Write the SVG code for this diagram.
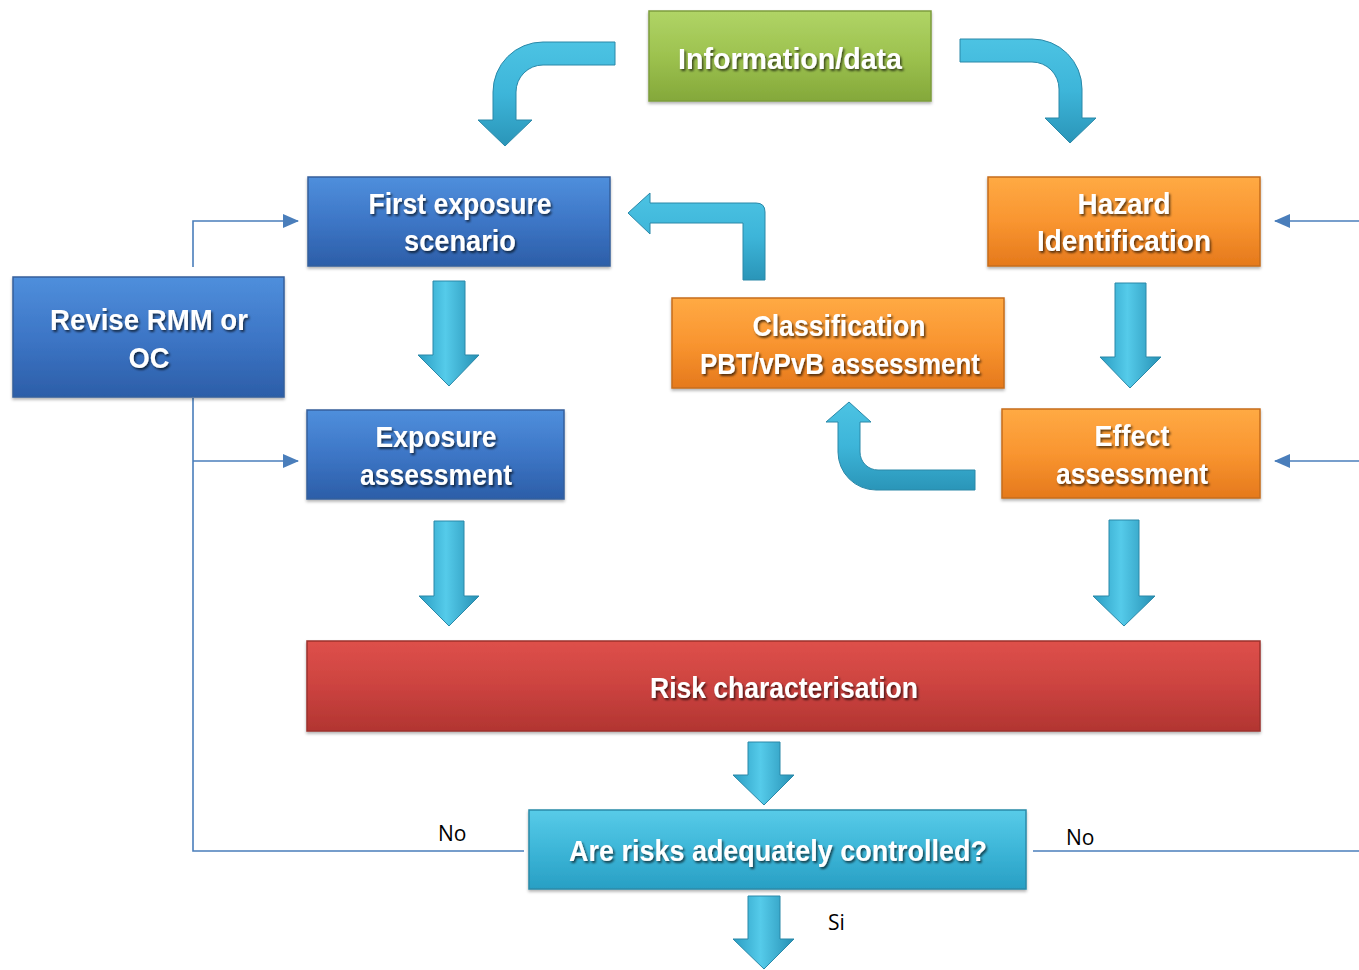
<svg xmlns="http://www.w3.org/2000/svg" width="1359" height="970" viewBox="0 0 1359 970">
<defs>
<linearGradient id="gGreen" x1="0" y1="0" x2="0" y2="1"><stop offset="0" stop-color="#b0d466"/><stop offset="0.5" stop-color="#9dc24f"/><stop offset="1" stop-color="#84a83a"/></linearGradient>
<linearGradient id="gBlue" x1="0" y1="0" x2="0" y2="1"><stop offset="0" stop-color="#4f8fdc"/><stop offset="0.5" stop-color="#3d76c6"/><stop offset="1" stop-color="#2c5ea8"/></linearGradient>
<linearGradient id="gOrange" x1="0" y1="0" x2="0" y2="1"><stop offset="0" stop-color="#ffaa44"/><stop offset="0.5" stop-color="#f99530"/><stop offset="1" stop-color="#e5791c"/></linearGradient>
<linearGradient id="gRed" x1="0" y1="0" x2="0" y2="1"><stop offset="0" stop-color="#de504a"/><stop offset="0.5" stop-color="#cc4340"/><stop offset="1" stop-color="#b23531"/></linearGradient>
<linearGradient id="gCyan" x1="0" y1="0" x2="0" y2="1"><stop offset="0" stop-color="#58cbe8"/><stop offset="0.5" stop-color="#3db6d8"/><stop offset="1" stop-color="#289fc4"/></linearGradient>
<linearGradient id="gArrV" x1="0" y1="0" x2="1" y2="0"><stop offset="0" stop-color="#2a9dc2"/><stop offset="0.45" stop-color="#55cbea"/><stop offset="1" stop-color="#2690b4"/></linearGradient>
<linearGradient id="gArrH" x1="0" y1="0" x2="0" y2="1"><stop offset="0" stop-color="#4cc3e3"/><stop offset="0.5" stop-color="#3db5d9"/><stop offset="1" stop-color="#2a95b8"/></linearGradient>
<filter id="tsh" x="-10%" y="-30%" width="120%" height="160%"><feDropShadow dx="1.5" dy="2" stdDeviation="1" flood-color="#000" flood-opacity="0.65"/></filter>
<filter id="bsh" x="-5%" y="-10%" width="110%" height="125%"><feDropShadow dx="0" dy="2" stdDeviation="1.5" flood-color="#000" flood-opacity="0.3"/></filter>
<marker id="ah" markerWidth="16" markerHeight="14" refX="15" refY="7" orient="auto" markerUnits="userSpaceOnUse"><path d="M0,0 L16,7 L0,14 Z" fill="#4a7ebb"/></marker>
<style>
.bt{font-family:"Liberation Sans",Arial,sans-serif;font-weight:bold;font-size:30px;fill:#fff;text-anchor:middle;filter:url(#tsh)}
.lbl{font-family:"Open Sans","Liberation Sans",sans-serif;font-size:21px;fill:#000}
.ln{fill:none;stroke:#4a7ebb;stroke-width:1.6}
.arr{stroke:#2a88a8;stroke-width:1}
.box{filter:url(#bsh)}
</style>
</defs>

<g id="connectors">
<path class="ln" d="M193,267 L193,221 L298,221" marker-end="url(#ah)"/>
<path class="ln" d="M193,398 L193,851 L524,851"/>
<path class="ln" d="M193,461 L298,461" marker-end="url(#ah)"/>
<path class="ln" d="M1359,221 L1275,221" marker-end="url(#ah)"/>
<path class="ln" d="M1359,461 L1275,461" marker-end="url(#ah)"/>
<path class="ln" d="M1033,851 L1359,851"/>
<text class="lbl" x="438" y="841">No</text>
<text class="lbl" x="1066" y="845">No</text>
<text class="lbl" x="828" y="930">Si</text>

<path class="arr" fill="url(#gArrH)" d="M615,42 L543,42 A50,50 0 0 0 493,92 L493,120 L478,120 L505,146 L532,120 L516,120 L516,92 A27,27 0 0 1 543,65 L615,65 Z"/>
<path class="arr" fill="url(#gArrH)" d="M960,39 L1032,39 A50,50 0 0 1 1082,89 L1082,118 L1096,118 L1070,143 L1045,118 L1059,118 L1059,89 A27,27 0 0 0 1032,62 L960,62 Z"/>
<path class="arr" fill="url(#gArrH)" d="M765,280 L765,212 Q765,203 756,203 L650,203 L650,193 L628,213 L650,234 L650,223 L743,223 L743,280 Z"/>
<path class="arr" fill="url(#gArrH)" d="M975,470 L878,470 A18,18 0 0 1 860,452 L860,422 L871,422 L849,402 L826,422 L838,422 L838,452 A38,38 0 0 0 876,490 L975,490 Z"/>

<path class="arr" fill="url(#gArrV)" d="M433,281 L465,281 L465,355 L479,355 L449,386 L418,355 L433,355 Z"/>
<path class="arr" fill="url(#gArrV)" d="M1115,283 L1146,283 L1146,357 L1161,357 L1130,388 L1100,357 L1115,357 Z"/>
<path class="arr" fill="url(#gArrV)" d="M434,521 L464,521 L464,596 L479,596 L449,626 L419,596 L434,596 Z"/>
<path class="arr" fill="url(#gArrV)" d="M1109,520 L1139,520 L1139,596 L1155,596 L1124,626 L1093,596 L1109,596 Z"/>
<path class="arr" fill="url(#gArrV)" d="M748,742 L780,742 L780,775 L794,775 L764,805 L733,775 L748,775 Z"/>
<path class="arr" fill="url(#gArrV)" d="M748,896 L780,896 L780,939 L794,939 L764,969 L733,939 L748,939 Z"/>
</g>

<g id="info" class="box">
<rect x="649" y="11" width="282" height="90" fill="url(#gGreen)" stroke="#7d9d3c" stroke-width="1.5"/>
<text class="bt" x="790" y="69" textLength="224" lengthAdjust="spacingAndGlyphs">Information/data</text>
</g>

<g id="first-exposure" class="box">
<rect x="308" y="177" width="302" height="89" fill="url(#gBlue)" stroke="#345f9c" stroke-width="1.5"/>
<text class="bt" x="460" y="214" textLength="183" lengthAdjust="spacingAndGlyphs">First exposure</text>
<text class="bt" x="460" y="251" textLength="112" lengthAdjust="spacingAndGlyphs">scenario</text>
</g>

<g id="hazard" class="box">
<rect x="988" y="177" width="272" height="89" fill="url(#gOrange)" stroke="#c66c1c" stroke-width="1.5"/>
<text class="bt" x="1124" y="214" textLength="93" lengthAdjust="spacingAndGlyphs">Hazard</text>
<text class="bt" x="1124" y="251" textLength="174" lengthAdjust="spacingAndGlyphs">Identification</text>
</g>

<g id="revise" class="box">
<rect x="13" y="277" width="271" height="120" fill="url(#gBlue)" stroke="#345f9c" stroke-width="1.5"/>
<text class="bt" x="149" y="330" textLength="198" lengthAdjust="spacingAndGlyphs">Revise RMM or</text>
<text class="bt" x="149" y="368" textLength="41" lengthAdjust="spacingAndGlyphs">OC</text>
</g>

<g id="classification" class="box">
<rect x="672" y="298" width="332" height="90" fill="url(#gOrange)" stroke="#c66c1c" stroke-width="1.5"/>
<text class="bt" x="839" y="336" textLength="173" lengthAdjust="spacingAndGlyphs">Classification</text>
<text class="bt" x="840" y="374" textLength="280" lengthAdjust="spacingAndGlyphs">PBT/vPvB assessment</text>
</g>

<g id="exposure-assessment" class="box">
<rect x="307" y="410" width="257" height="89" fill="url(#gBlue)" stroke="#345f9c" stroke-width="1.5"/>
<text class="bt" x="436" y="447" textLength="121" lengthAdjust="spacingAndGlyphs">Exposure</text>
<text class="bt" x="436" y="485" textLength="152" lengthAdjust="spacingAndGlyphs">assessment</text>
</g>

<g id="effect-assessment" class="box">
<rect x="1002" y="409" width="258" height="89" fill="url(#gOrange)" stroke="#c66c1c" stroke-width="1.5"/>
<text class="bt" x="1132" y="446" textLength="75" lengthAdjust="spacingAndGlyphs">Effect</text>
<text class="bt" x="1132" y="484" textLength="152" lengthAdjust="spacingAndGlyphs">assessment</text>
</g>

<g id="risk" class="box">
<rect x="307" y="641" width="953" height="90" fill="url(#gRed)" stroke="#9c302c" stroke-width="1.5"/>
<text class="bt" x="784" y="698" textLength="268" lengthAdjust="spacingAndGlyphs">Risk characterisation</text>
</g>

<g id="controlled" class="box">
<rect x="529" y="810" width="497" height="79" fill="url(#gCyan)" stroke="#2a8aa8" stroke-width="1.5"/>
<text class="bt" x="778" y="861" textLength="418" lengthAdjust="spacingAndGlyphs">Are risks adequately controlled?</text>
</g>
</svg>
